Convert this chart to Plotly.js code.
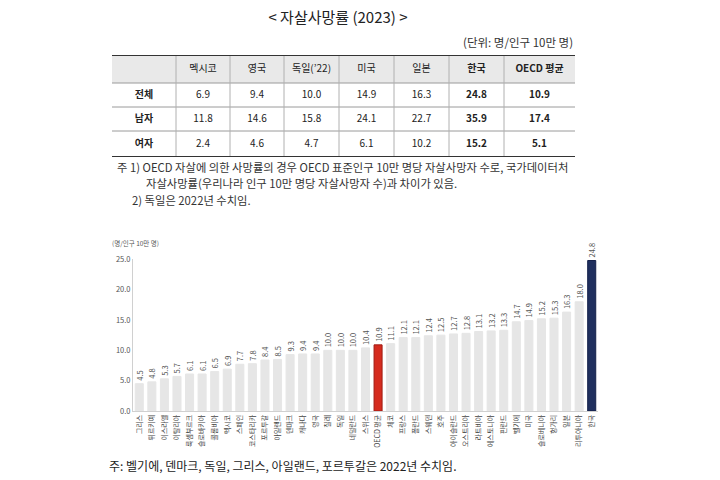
<!DOCTYPE html>
<html>
<head>
<meta charset="utf-8">
<script src="https://cdn.plot.ly/plotly-3.0.1.min.js"></script>
<style>html,body{margin:0;padding:0;background:#fff;}#chart{width:720px;height:480px;}</style>
</head>
<body>
<div id="chart"></div>
<script>
// ---- bar chart data ----
const categories = ['그리스','튀르키예','이스라엘','이탈리아','룩셈부르크','슬로바키아','콜롬비아','멕시코','스페인','코스타리카','포르투갈','아일랜드','덴마크','캐나다','영국','칠레','독일','네덜란드','스위스','OECD 평균','체코','프랑스','폴란드','스웨덴','호주','아이슬란드','오스트리아','라트비아','에스토니아','핀란드','벨기에','미국','슬로베니아','헝가리','일본','리투아니아','한국'];
const values = [4.5,4.8,5.3,5.7,6.1,6.1,6.5,6.9,7.7,7.8,8.4,8.5,9.3,9.4,9.4,10.0,10.0,10.0,10.4,10.9,11.1,12.1,12.1,12.4,12.5,12.7,12.8,13.1,13.2,13.3,14.7,14.9,15.2,15.3,16.3,18.0,24.8];
const yTicks = [0,5,10,15,20,25];

// ---- table data ----
const tableCols = ['멕시코','영국','독일(’22)','미국','일본','한국','OECD 평균'];
const rowLabels = ['전체','남자','여자'];
const totalRow  = [6.9, 9.4, 10.0, 14.9, 16.3, 24.8, 10.9];
const maleRow   = [11.8,14.6,15.8, 24.1, 22.7, 35.9, 17.4];
const femaleRow = [2.4, 4.6, 4.7,  6.1,  10.2, 15.2, 5.1];
const boldCols = ['한국','OECD 평균'];

const FONT = 'Noto Sans CJK KR, Noto Sans, sans-serif';
const W = 720, H = 480;
const px = x => x / W;
const py = y => 1 - y / H;

// table geometry (layout only)
const TL = 112, TR = 575, TT = 55;
const colWidths = [64, 54, 54, 55, 55, 55, 55, 71];
const rowHeights = [28, 24, 24, 26];
const colEdges = colWidths.reduce((a, w) => a.concat(a[a.length - 1] + w), [TL]);
const rowEdges = rowHeights.reduce((a, h) => a.concat(a[a.length - 1] + h), [TT]);
const TB = rowEdges[rowEdges.length - 1];
const colCenters = colWidths.map((w, i) => (colEdges[i] + colEdges[i + 1]) / 2);
const rowCenters = rowHeights.map((h, i) => (rowEdges[i] + rowEdges[i + 1]) / 2);

const b = s => '<b>' + s + '</b>';
const dataRows = [totalRow, maleRow, femaleRow];

// build table text points
const tX = [], tY = [], tT = [];
// header
tableCols.forEach((c, j) => { tX.push(colCenters[j + 1]); tY.push(rowCenters[0]); tT.push(boldCols.includes(c) ? b(c) : c); });
// rows
rowLabels.forEach((r, i) => {
  tX.push(colCenters[0]); tY.push(rowCenters[i + 1]); tT.push(b(r));
  tableCols.forEach((c, j) => {
    const v = dataRows[i][j].toFixed(1);
    tX.push(colCenters[j + 1]); tY.push(rowCenters[i + 1]); tT.push(boldCols.includes(c) ? b(v) : v);
  });
});

const barColors = categories.map(c => c === 'OECD 평균' ? '#d52b1e' : (c === '한국' ? '#1f2f5e' : '#e6e6e6'));
const barLines = categories.map(c => c === 'OECD 평균' ? '#a01c14' : (c === '한국' ? '#14204a' : '#e6e6e6'));

const traces = [
  {
    type: 'scatter', mode: 'text', xaxis: 'x2', yaxis: 'y2',
    x: tX, y: tY, text: tT, textposition: 'middle center',
    textfont: {family: FONT, size: 10, color: '#222'},
    hoverinfo: 'skip', cliponaxis: false
  },
  {
    type: 'bar',
    x: categories,
    y: values,
    marker: {color: barColors, line: {color: barLines, width: 1}},
    text: values.map(v => v.toFixed(1)),
    textposition: 'outside',
    textangle: -90,
    constraintext: 'none',
    cliponaxis: false,
    textfont: {family: FONT, size: 7.5, color: '#555'},
    hoverinfo: 'skip'
  }
];

const shapes = [];
// header fill
shapes.push({type: 'rect', xref: 'x2', yref: 'y2', x0: TL, x1: TR, y0: rowEdges[0], y1: rowEdges[1], fillcolor: '#e9e9e9', line: {width: 0}, layer: 'below'});
// inner horizontal lines
rowEdges.slice(1, -1).forEach(y => shapes.push({type: 'line', xref: 'x2', yref: 'y2', x0: TL, x1: TR, y0: y, y1: y, line: {color: '#9a9a9a', width: 1}}));
// vertical lines
colEdges.slice(1, -1).forEach(x => shapes.push({type: 'line', xref: 'x2', yref: 'y2', x0: x, x1: x, y0: TT, y1: TB, line: {color: '#b0b0b0', width: 1}}));
// top & bottom rules
shapes.push({type: 'line', xref: 'x2', yref: 'y2', x0: TL, x1: TR, y0: TT, y1: TT, line: {color: '#333', width: 2}});
shapes.push({type: 'line', xref: 'x2', yref: 'y2', x0: TL, x1: TR, y0: TB, y1: TB, line: {color: '#333', width: 2}});

const layout = {
  width: W, height: H,
  margin: {l: 0, r: 0, t: 0, b: 0},
  paper_bgcolor: '#fff',
  plot_bgcolor: 'rgba(0,0,0,0)',
  showlegend: false,
  bargap: 0.36,
  font: {family: FONT, color: '#333'},
  title: {
    text: '< 자살사망률 (2023) >',
    x: px(338), xanchor: 'center', xref: 'paper',
    y: py(18), yanchor: 'middle', yref: 'paper',
    font: {family: FONT, size: 15, color: '#222'}
  },
  xaxis: {
    domain: [px(133), px(598)],
    anchor: 'y',
    type: 'category',
    tickangle: -90,
    tickfont: {family: FONT, size: 7, color: '#444'},
    showline: true, linecolor: '#d0d0d0', linewidth: 1,
    ticks: '', showgrid: false, zeroline: false,
    fixedrange: true
  },
  yaxis: {
    domain: [py(411), py(259.3)],
    anchor: 'x',
    range: [0, 25],
    tickvals: yTicks,
    tickformat: '.1f',
    tickfont: {family: FONT, size: 7.5, color: '#555'},
    showline: true, linecolor: '#d0d0d0', linewidth: 1,
    ticks: '', showgrid: false, zeroline: false,
    fixedrange: true
  },
  xaxis2: {
    domain: [px(TL), px(TR)], anchor: 'y2', range: [TL, TR],
    visible: false, fixedrange: true
  },
  yaxis2: {
    domain: [py(TB), py(TT)], anchor: 'x2', range: [TB, TT],
    visible: false, fixedrange: true
  },
  shapes: shapes,
  annotations: [
    {text: '(단위: 명/인구 10만 명)', xref: 'paper', yref: 'paper', x: px(575), y: py(42), xanchor: 'right', yanchor: 'middle', showarrow: false, font: {family: FONT, size: 11.5, color: '#333'}},
    {text: '주 1) OECD 자살에 의한 사망률의 경우 OECD 표준인구 10만 명당 자살사망자 수로, 국가데이터처', xref: 'paper', yref: 'paper', x: px(115), y: py(166.5), xanchor: 'left', yanchor: 'middle', showarrow: false, font: {family: FONT, size: 11.3, color: '#333'}},
    {text: '자살사망률(우리나라 인구 10만 명당 자살사망자 수)과 차이가 있음.', xref: 'paper', yref: 'paper', x: px(144), y: py(183), xanchor: 'left', yanchor: 'middle', showarrow: false, font: {family: FONT, size: 11.3, color: '#333'}},
    {text: '2) 독일은 2022년 수치임.', xref: 'paper', yref: 'paper', x: px(130), y: py(199.5), xanchor: 'left', yanchor: 'middle', showarrow: false, font: {family: FONT, size: 11.3, color: '#333'}},
    {text: '(명/인구 10만 명)', xref: 'paper', yref: 'paper', x: px(110), y: py(243), xanchor: 'left', yanchor: 'middle', showarrow: false, font: {family: FONT, size: 6.5, color: '#555'}},
    {text: '주: 벨기에, 덴마크, 독일, 그리스, 아일랜드, 포르투갈은 2022년 수치임.', xref: 'paper', yref: 'paper', x: px(107), y: py(465), xanchor: 'left', yanchor: 'middle', showarrow: false, font: {family: FONT, size: 12, color: '#222'}}
  ]
};

Plotly.newPlot('chart', traces, layout, {displayModeBar: false, staticPlot: true});
</script>
</body>
</html>
